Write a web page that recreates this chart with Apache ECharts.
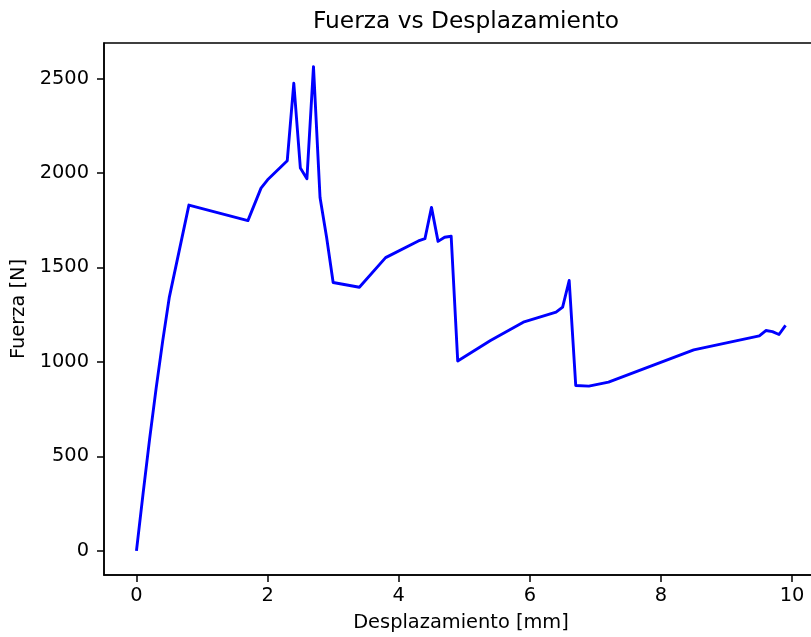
<!DOCTYPE html>
<html>
<head>
<meta charset="utf-8">
<script src="https://cdn.jsdelivr.net/npm/echarts@6/dist/echarts.min.js"></script>
<style>
  html, body { margin: 0; padding: 0; background: #fff; }
  #chart { width: 811px; height: 637px; }
</style>
</head>
<body>
<div id="chart"></div>
<script>
// Displacement [mm] and measured force [N]
const desplazamiento = [0, 0.1, 0.2, 0.3, 0.4, 0.5, 0.8, 1.7, 1.9, 2.0, 2.3, 2.4, 2.5, 2.6, 2.7, 2.8, 2.9, 3.0, 3.4, 3.8, 4.3, 4.4, 4.5, 4.6, 4.7, 4.8, 4.9, 5.4, 5.9, 6.4, 6.5, 6.6, 6.7, 6.9, 7.2, 8.5, 9.5, 9.6, 9.7, 9.8, 9.9];
const fuerza = [0, 300, 590, 860, 1110, 1340, 1830, 1748, 1920, 1964, 2065, 2475, 2026, 1970, 2563, 1870, 1660, 1420, 1395, 1552, 1640, 1652, 1818, 1638, 1660, 1665, 1005, 1113, 1210, 1263, 1290, 1431, 875, 872, 893, 1064, 1138, 1166, 1160, 1145, 1193];

const xTicks = [0, 2, 4, 6, 8, 10];
const yTicks = [0, 500, 1000, 1500, 2000, 2500];

const FONT = 'DejaVu Sans';
const chart = echarts.init(document.getElementById('chart'), null, { renderer: 'canvas' });

const axisCommon = {
  axisLine: { show: true, onZero: false, lineStyle: { color: '#000', width: 1.5 } },
  axisTick: { show: true, inside: false, length: 7, lineStyle: { color: '#000', width: 1.5 } },
  splitLine: { show: false },
  nameTextStyle: { fontFamily: FONT, fontSize: 19.4, color: '#000' }
};

chart.setOption({
  animation: false,
  backgroundColor: '#fff',
  title: {
    text: 'Fuerza vs Desplazamiento',
    left: 461,
    top: 5,
    textAlign: 'center',
    textStyle: { fontFamily: FONT, fontSize: 23.3, fontWeight: 'normal', color: '#000' }
  },
  grid: {
    left: 104, top: 43, right: -7, bottom: 62,
    containLabel: false,
    outerBoundsMode: 'none',
    show: true, borderColor: '#000', borderWidth: 1.5, backgroundColor: 'transparent'
  },
  xAxis: Object.assign({}, axisCommon, {
    type: 'value',
    min: -0.495,
    max: 10.395,
    name: 'Desplazamiento [mm]',
    nameLocation: 'middle',
    nameGap: 38,
    axisTick: Object.assign({}, axisCommon.axisTick, { customValues: xTicks }),
    axisLabel: {
      customValues: xTicks,
      margin: 11,
      formatter: v => String(v),
      fontFamily: FONT, fontSize: 19.4, color: '#000'
    }
  }),
  yAxis: Object.assign({}, axisCommon, {
    type: 'value',
    min: -128,
    max: 2688,
    name: 'Fuerza [N]',
    nameLocation: 'middle',
    nameGap: 76,
    nameRotate: 90,
    axisTick: Object.assign({}, axisCommon.axisTick, { customValues: yTicks }),
    axisLabel: {
      customValues: yTicks,
      margin: 15,
      formatter: v => String(v),
      fontFamily: FONT, fontSize: 19.4, color: '#000'
    }
  }),
  series: [{
    type: 'line',
    data: desplazamiento.map((x, i) => [x, fuerza[i]]),
    showSymbol: false,
    symbol: 'none',
    lineStyle: { color: '#0000ff', width: 2.9, join: 'round' },
    itemStyle: { color: '#0000ff' },
    clip: true
  }]
});
</script>
</body>
</html>
